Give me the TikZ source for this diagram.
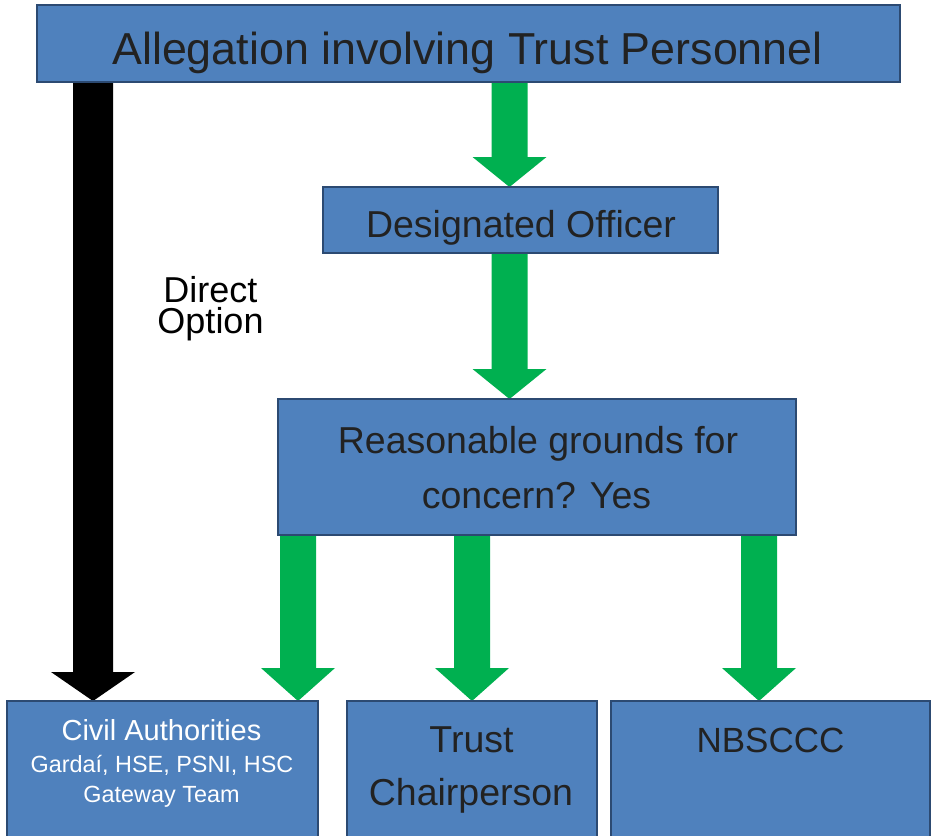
\documentclass[tikz,border=0pt]{standalone}
\usepackage{fontspec}
\setmainfont{Liberation Sans}
\usetikzlibrary{calc,backgrounds}
\definecolor{boxfill}{HTML}{4F81BD}
\definecolor{boxline}{HTML}{2C4A72}
\definecolor{flowgreen}{HTML}{00B050}
\definecolor{ink}{HTML}{222222}

% block arrow: #1 start, #2 tip, #3 half shaft width, #4 half head width, #5 head length, #6 colour
\newcommand\blockarrow[6]{%
  \fill[#6] let \p1=(#1), \p2=(#2) in
    (\x1-#3,\y1) -- (\x1+#3,\y1) -- (\x1+#3,\y2+#5) -- (\x1+#4,\y2+#5)
    -- (\x1,\y2) -- (\x1-#4,\y2+#5) -- (\x1-#3,\y2+#5) -- cycle;}

\begin{document}
\begin{tikzpicture}[x=1pt,y=-1pt,
  box/.style={rectangle, draw=boxline, line width=2pt, fill=boxfill, inner sep=0pt, outer sep=0pt},
  txt/.style={anchor=base, inner sep=0pt, text=ink},
  wtxt/.style={anchor=base, inner sep=0pt, text=white},
  big/.style={font=\fontsize{37.5}{42}\selectfont},
]
\useasboundingbox (0,0) rectangle (933,835);

% boxes
\node[box, minimum width=863pt, minimum height=77pt]  (top)    at (468.5,43.5) {};
\node[box, minimum width=395pt, minimum height=66pt]  (do)     at (520.5,220)  {};
\node[box, minimum width=518pt, minimum height=136pt] (rg)     at (537,467)    {};
\node[box, minimum width=311pt, minimum height=144pt] (civil)  at (162.5,773)  {};
\node[box, minimum width=250.5pt, minimum height=144pt] (chair) at (471.75,773) {};
\node[box, minimum width=319pt, minimum height=144pt] (nb)     at (770.5,773)  {};

% texts
\node[txt, font=\fontsize{44.8}{50}\selectfont] (toptxt) at (467.5,64) {Allegation involving Trust Personnel};
\node[txt, big] (dotxt) at (521,237) {Designated Officer};
\node[txt, big] (rgtxta) at (538,453) {Reasonable grounds for};
\node[txt, big] (rgtxtb) at (536.5,508) {concern? Yes};
\node[txt, big] (chtxta) at (471.5,752) {Trust};
\node[txt, big] (chtxtb) at (471,805) {Chairperson};
\node[txt, font=\fontsize{35}{40}\selectfont] (nbtxt) at (770.5,752) {NBSCCC};
\node[wtxt, font=\fontsize{29}{34}\selectfont] (cvtxta) at (161.5,740) {Civil Authorities};
\node[wtxt, font=\fontsize{23.4}{28}\selectfont] (cvtxtb) at (162,772) {Gardaí, HSE, PSNI, HSC};
\node[wtxt, font=\fontsize{23.4}{28}\selectfont] (cvtxtc) at (161.5,802) {Gateway Team};
\node[inner sep=0pt, text=black, align=center, font=\fontsize{36}{31}\selectfont]
  (direct) at (210.5,308.3) {Direct\\Option};

% arrow axes
\coordinate (gmain) at (509.5,0);
\coordinate (gleft) at (298,0);
\coordinate (gmid)  at (472,0);
\coordinate (gright) at (759,0);
\coordinate (kdirect) at (93,0);

\begin{scope}[on background layer]
  \blockarrow{top.south -| gmain}{do.north -| gmain}{18pt}{37pt}{30pt}{flowgreen}
  \blockarrow{do.south -| gmain}{rg.north -| gmain}{18pt}{37pt}{30pt}{flowgreen}
  \blockarrow{rg.south -| gleft}{civil.north -| gleft}{18pt}{37pt}{33pt}{flowgreen}
  \blockarrow{rg.south -| gmid}{chair.north -| gmid}{18pt}{37pt}{33pt}{flowgreen}
  \blockarrow{rg.south -| gright}{nb.north -| gright}{18pt}{37pt}{33pt}{flowgreen}
  \blockarrow{top.south -| kdirect}{civil.north -| kdirect}{20pt}{42pt}{29pt}{black}
\end{scope}
\end{tikzpicture}
\end{document}
